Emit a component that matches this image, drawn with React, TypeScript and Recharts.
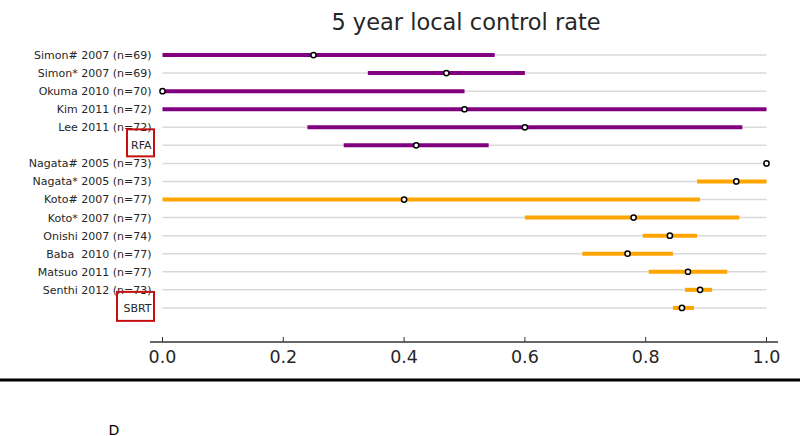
import React from 'react';
import { ScatterChart, Scatter, XAxis, YAxis, ReferenceLine, ReferenceDot } from 'recharts';

const labels = [
  'Simon# 2007 (n=69)',
  'Simon* 2007 (n=69)',
  'Okuma 2010 (n=70)',
  'Kim 2011 (n=72)',
  'Lee 2011 (n=72)',
  'RFA',
  'Nagata# 2005 (n=73)',
  'Nagata* 2005 (n=73)',
  'Koto# 2007 (n=77)',
  'Koto* 2007 (n=77)',
  'Onishi 2007 (n=74)',
  'Baba  2010 (n=77)',
  'Matsuo 2011 (n=77)',
  'Senthi 2012 (n=73)',
  'SBRT',
];
const groups = ['RFA', 'RFA', 'RFA', 'RFA', 'RFA', 'RFA', 'SBRT', 'SBRT', 'SBRT', 'SBRT', 'SBRT', 'SBRT', 'SBRT', 'SBRT', 'SBRT'];
const pointEst = [0.25, 0.47, 0.0, 0.5, 0.6, 0.42, 1.0, 0.95, 0.4, 0.78, 0.84, 0.77, 0.87, 0.89, 0.86];
const lowerCI: (number | null)[] = [0.0, 0.34, 0.0, 0.0, 0.24, 0.3, null, 0.885, 0.0, 0.6, 0.795, 0.695, 0.805, 0.865, 0.845];
const upperCI: (number | null)[] = [0.55, 0.6, 0.5, 1.0, 0.96, 0.54, null, 1.0, 0.89, 0.955, 0.885, 0.845, 0.935, 0.91, 0.88];
const xTicks = [0, 0.2, 0.4, 0.6, 0.8, 1.0];
const boxedLabels = ['RFA', 'SBRT'];
const title = '5 year local control rate';
const panelLetter = 'D';

const groupColors: Record<string, string> = { RFA: '#800080', SBRT: '#ffa500' };
const FONT = "'DejaVu Sans', sans-serif";

const rowIdx = labels.map((_, i) => i);
const points = labels.map((_, i) => ({ x: pointEst[i], y: i }));

const boxGeom: Record<string, { dx: number; w: number; h: number; dy: number }> = {
  RFA: { dx: -23, w: 27, h: 27, dy: -16 },
  SBRT: { dx: -33, w: 37, h: 29, dy: -16 },
};

const YTick = (props: any) => {
  const { x, y, payload } = props;
  const label = labels[payload.value] ?? '';
  const box = boxedLabels.includes(label) ? boxGeom[label] : null;
  return (
    <g>
      <text
        x={x + 1.5}
        y={y}
        dy="0.36em"
        textAnchor="end"
        fontSize={11}
        fill="#262626"
        fontFamily={FONT}
        style={{ whiteSpace: 'pre' }}
      >
        {label}
      </text>
      {box && (
        <rect x={x + box.dx} y={y + box.dy} width={box.w} height={box.h} fill="none" stroke="#c41010" strokeWidth={2} />
      )}
    </g>
  );
};

export default function App() {
  return (
    <div style={{ position: 'absolute', left: 0, top: 0, width: 800, height: 436, background: '#fff' }}>
      <ScatterChart width={800} height={436} margin={{ top: 37, right: 22, bottom: 54, left: 0 }}>
        <XAxis
          type="number"
          dataKey="x"
          domain={[0, 1]}
          allowDataOverflow
          ticks={xTicks}
          tickFormatter={(v: number) => v.toFixed(1)}
          padding={{ left: 12.5, right: 11.5 }}
          height={40}
          tickSize={-5}
          tickMargin={13.5}
          axisLine={{ stroke: '#333333', strokeWidth: 1.6 }}
          tickLine={{ stroke: '#333333', strokeWidth: 1 }}
          tick={{ fontSize: 17.5, fill: '#262626', fontFamily: FONT }}
        />
        <YAxis
          type="number"
          dataKey="y"
          domain={[-1, 15.889]}
          allowDataOverflow
          reversed
          ticks={rowIdx}
          interval={0}
          width={150}
          tickSize={0}
          tickMargin={0}
          axisLine={false}
          tickLine={false}
          tick={<YTick />}
        />
        <Scatter data={points} shape={() => null} isAnimationActive={false} />
        {rowIdx.map((i) => (
          <ReferenceLine
            key={`g${i}`}
            segment={[{ x: 0, y: i }, { x: 1, y: i }]}
            stroke="#d9d9d9"
            strokeWidth={1.5}
          />
        ))}
        {rowIdx.map((i) =>
          lowerCI[i] != null && upperCI[i] != null ? (
            <ReferenceLine
              key={`c${i}`}
              segment={[{ x: lowerCI[i] as number, y: i }, { x: upperCI[i] as number, y: i }]}
              stroke={groupColors[groups[i]]}
              strokeWidth={4}
            />
          ) : null
        )}
        {points.map((p, i) => (
          <ReferenceDot
            key={`p${i}`}
            x={p.x}
            y={p.y}
            r={2.6}
            fill="#ffffff"
            stroke="#000000"
            strokeWidth={1.5}
            ifOverflow="visible"
          />
        ))}
      </ScatterChart>
      <svg width={800} height={436} style={{ position: 'absolute', left: 0, top: 0, pointerEvents: 'none' }}>
        <text x={466} y={30} textAnchor="middle" fontSize={22.5} fill="#262626" fontFamily={FONT}>
          {title}
        </text>
        <line x1={0} x2={800} y1={380} y2={380} stroke="#000000" strokeWidth={3} />
        <text x={108.5} y={434.5} fontSize={14} fill="#000000" fontFamily={FONT}>
          {panelLetter}
        </text>
      </svg>
    </div>
  );
}
